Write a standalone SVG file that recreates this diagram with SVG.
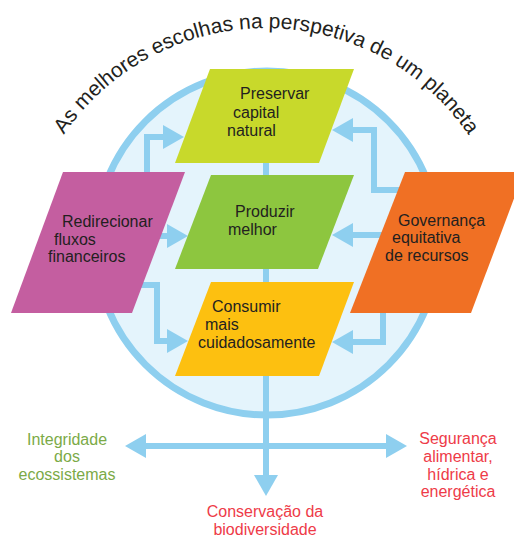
<svg xmlns="http://www.w3.org/2000/svg" width="514" height="538" viewBox="0 0 514 538">
  <style>
    .lbl { font-family: "Liberation Sans", Arial, sans-serif; font-size: 16px; fill: #231F20; }
    .out { font-family: "Liberation Sans", Arial, sans-serif; font-size: 16px; text-anchor: middle; }
    .green { fill: #7BAA47; }
    .red { fill: #EE3B48; }
    .conn { fill: none; stroke: #8ECFEF; stroke-width: 6; stroke-linejoin: miter; }
    .title { font-family: "Liberation Sans", Arial, sans-serif; font-size: 21px; fill: #231F20; }
  </style>
  <defs>
    <marker id="ah" markerUnits="userSpaceOnUse" markerWidth="22" markerHeight="26" viewBox="-1 -13 22 26" refX="0" refY="0" orient="auto-start-reverse">
      <path d="M-1,-12 L20,0 L-1,12 Z" fill="#8ECFEF"/>
    </marker>
    <path id="arc" d="M 21,273 A 245 245 0 0 1 511,273"/>
  </defs>

  <rect width="514" height="538" fill="#FFFFFF"/>

  <g id="title" class="title">
    <text><textPath href="#arc" startOffset="146.8">As</textPath></text>
    <text><textPath href="#arc" startOffset="177.2">melhores</textPath></text>
    <text><textPath href="#arc" startOffset="269.3">escolhas</textPath></text>
    <text><textPath href="#arc" startOffset="358.0">na</textPath></text>
    <text><textPath href="#arc" startOffset="387.2">perspetiva</textPath></text>
    <text><textPath href="#arc" startOffset="489.9">de</textPath></text>
    <text><textPath href="#arc" startOffset="519.1">um</textPath></text>
    <text><textPath href="#arc" startOffset="554.1">planeta</textPath></text>
  </g>

  <g id="planet">
    <circle cx="267" cy="243" r="172" fill="#E4F4FC" stroke="#8ECFEF" stroke-width="7"/>
  </g>

  <g id="connectors">
    <path class="conn" d="M266,150 V476" marker-end="url(#ah)"/>
    <path class="conn" d="M145,446 H387" marker-start="url(#ah)" marker-end="url(#ah)"/>
    <path class="conn" d="M147,180 V137 H164" marker-end="url(#ah)"/>
    <path class="conn" d="M150,236 H168" marker-end="url(#ah)"/>
    <path class="conn" d="M135,285 H157 V341 H168" marker-end="url(#ah)"/>
    <path class="conn" d="M405,190 H374 V130 H352" marker-end="url(#ah)"/>
    <path class="conn" d="M400,235 H352" marker-end="url(#ah)"/>
    <path class="conn" d="M383,305 V342 H352" marker-end="url(#ah)"/>
  </g>

  <g id="preservar">
    <polygon points="210,69 354,69 319,163 175,163" fill="#C8D92B"/>
    <text class="lbl"><tspan x="240" y="99">Preservar</tspan><tspan x="233" y="118">capital</tspan><tspan x="227" y="136">natural</tspan></text>
  </g>

  <g id="produzir">
    <polygon points="211,175 354,175 318,269 175,269" fill="#8DC63F"/>
    <text class="lbl"><tspan x="235" y="216.5">Produzir</tspan><tspan x="228" y="234.5">melhor</tspan></text>
  </g>

  <g id="consumir">
    <polygon points="211,282 354,282 319,376 175,376" fill="#FDC010"/>
    <text class="lbl"><tspan x="212" y="312">Consumir</tspan><tspan x="205" y="330">mais</tspan><tspan x="198" y="348">cuidadosamente</tspan></text>
  </g>

  <g id="redirecionar">
    <polygon points="63,172 185,172 132,313 11,313" fill="#C45EA0"/>
    <text class="lbl"><tspan x="62" y="227">Redirecionar</tspan><tspan x="54" y="245">fluxos</tspan><tspan x="48" y="262">financeiros</tspan></text>
  </g>

  <g id="governanca">
    <polygon points="405,172 524,172 471,313 350,313" fill="#F07024"/>
    <text class="lbl"><tspan x="398" y="226">Governança</tspan><tspan x="392" y="243">equitativa</tspan><tspan x="385" y="261">de recursos</tspan></text>
  </g>

  <g id="integridade">
    <text class="out green"><tspan x="67" y="444.5">Integridade</tspan><tspan x="67" y="462">dos</tspan><tspan x="67" y="479.5">ecossistemas</tspan></text>
  </g>

  <g id="seguranca">
    <text class="out red"><tspan x="458" y="444">Segurança</tspan><tspan x="458" y="462">alimentar,</tspan><tspan x="458" y="480">hídrica e</tspan><tspan x="458" y="497">energética</tspan></text>
  </g>

  <g id="conservacao">
    <text class="out red"><tspan x="265" y="517">Conservação da</tspan><tspan x="265" y="535">biodiversidade</tspan></text>
  </g>
</svg>
